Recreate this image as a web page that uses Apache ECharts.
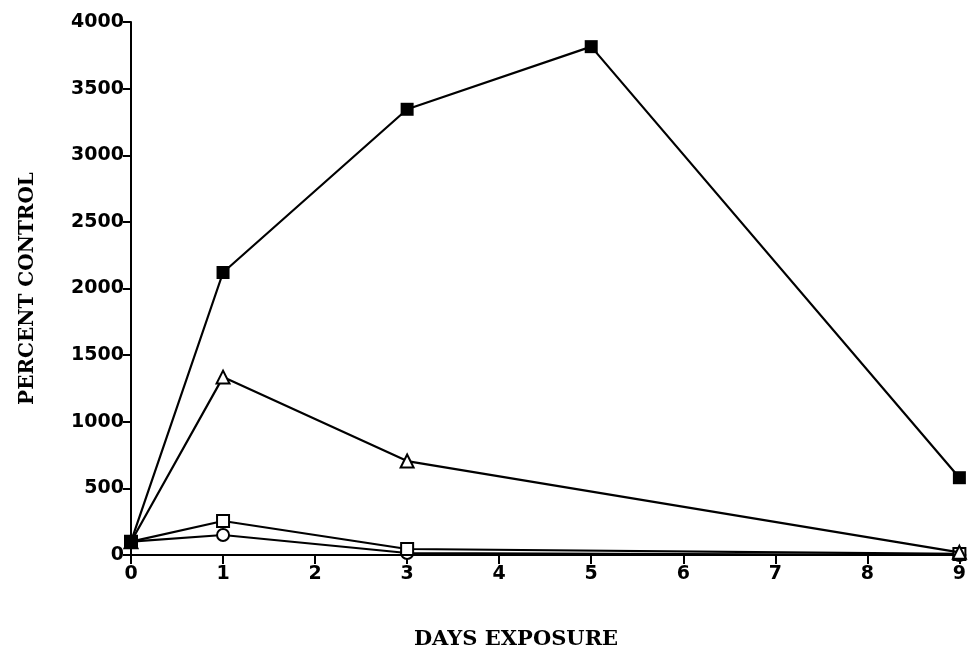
<!DOCTYPE html>
<html><head><meta charset="utf-8">
<script src="https://cdn.jsdelivr.net/npm/echarts@6/dist/echarts.min.js"></script>
<style>html,body{margin:0;padding:0;background:#fff}#c{width:969px;height:651px}</style>
</head><body><div id="c"></div>
<script>
const days = [0, 1, 3, 5, 9];
const filledSquare = [100, 2120, 3345, 3815, 580];
const triangle = [100, 1335, 705, null, 20];
const openSquare = [100, 255, 45, null, 8];
const circle = [100, 150, 15, null, 0];
const xTicks = [0,1,2,3,4,5,6,7,8,9];
const yTicks = [0,500,1000,1500,2000,2500,3000,3500,4000];

function pairs(vals){ const out=[]; days.forEach((d,i)=>{ if(vals[i]!==null) out.push([d, vals[i]]); }); return out; }

const chart = echarts.init(document.getElementById('c'));
const lineStyle = {color:'#000', width:2.2};
const base = {type:'line', lineStyle, itemStyle:{color:'#000', borderColor:'#000', borderWidth:2}, symbolSize:12};
chart.setOption({
  animation:false,
  backgroundColor:'#fff',
  title:{text:'DAYS EXPOSURE', left:511, top:624, textAlign:'center',
    textStyle:{fontFamily:'DejaVu Serif', fontWeight:'bold', fontSize:21, color:'#000'}},
  grid:{left:131, top:22, right:4, bottom:96, containLabel:false},
  xAxis:{type:'value', min:0, max:9, interval:1,
    axisLine:{lineStyle:{color:'#000', width:2}},
    axisTick:{length:9, inside:false, lineStyle:{color:'#000', width:2}},
    axisLabel:{color:'#000', fontFamily:'DejaVu Sans', fontWeight:'bold', fontSize:19, margin:10,
      formatter:v=>xTicks.includes(v)?String(v):''},
    splitLine:{show:false}},
  yAxis:{type:'value', min:0, max:4000, interval:500,
    name:'PERCENT CONTROL', nameLocation:'middle', nameGap:93, nameRotate:90,
    nameTextStyle:{fontFamily:'DejaVu Serif', fontWeight:'bold', fontSize:20, color:'#000'},
    axisLine:{show:true, lineStyle:{color:'#000', width:2}},
    axisTick:{show:true, length:8, lineStyle:{color:'#000', width:2}},
    axisLabel:{color:'#000', fontFamily:'DejaVu Sans', fontWeight:'bold', fontSize:19, margin:7,
      formatter:v=>yTicks.includes(v)?String(v):''},
    splitLine:{show:false}},
  series:[
    Object.assign({}, base, {name:'circle', data:pairs(circle), symbol:'emptyCircle', symbolSize:12, z:2}),
    Object.assign({}, base, {name:'square', data:pairs(openSquare), symbol:'emptyRect', symbolSize:12, z:3}),
    Object.assign({}, base, {name:'triangle', data:pairs(triangle), symbol:'emptyTriangle', symbolSize:13, z:4}),
    Object.assign({}, base, {name:'filled', data:pairs(filledSquare), symbol:'rect', symbolSize:13, itemStyle:{color:'#000'}, z:5})
  ]
});
</script></body></html>
